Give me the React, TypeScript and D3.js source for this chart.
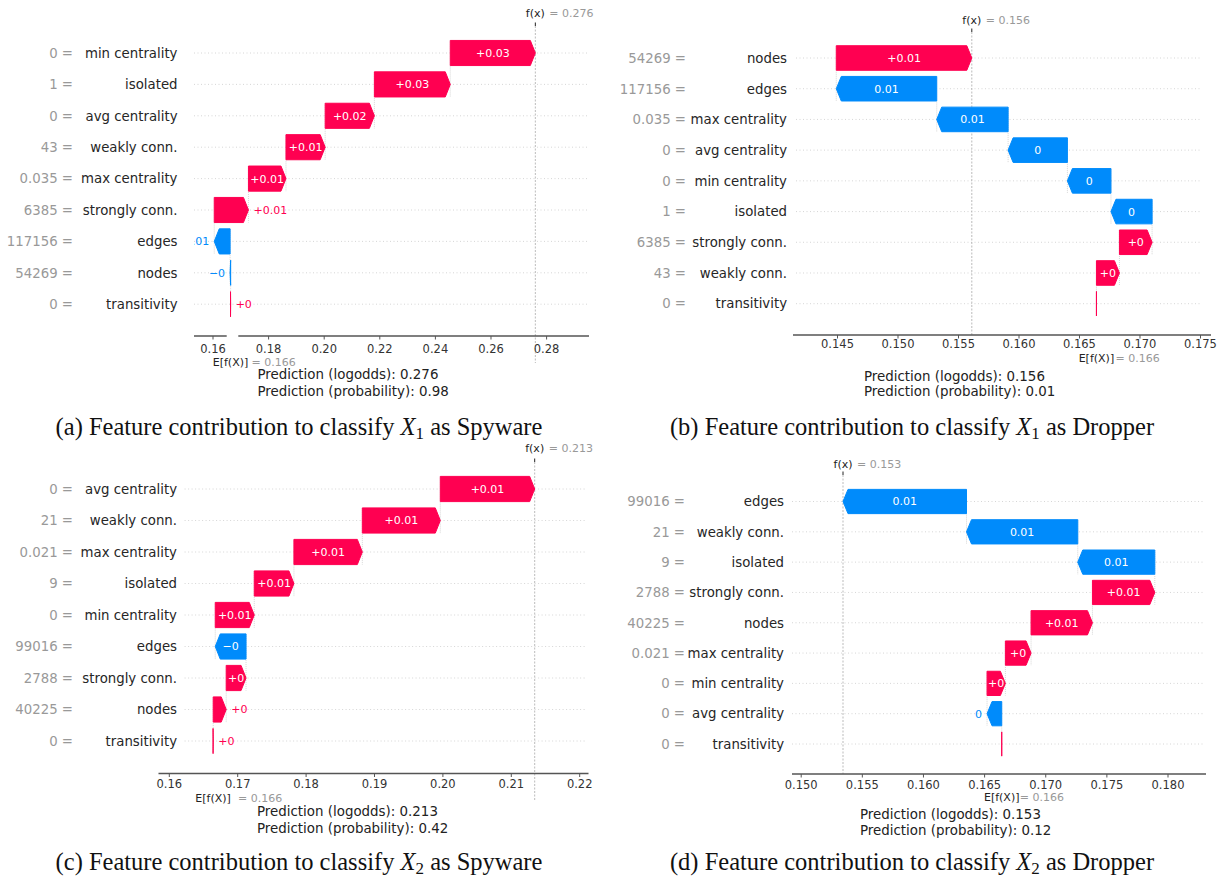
import React from "react";
import * as d3 from "d3";

const POS_COLOR = "#ff0051";
const NEG_COLOR = "#008bfb";
const SANS = "'DejaVu Sans', Verdana, sans-serif";
const SERIF = "'Liberation Serif', 'Times New Roman', serif";

// (a) sample X1 explained for class Spyware
const featuresA = ["min centrality", "isolated", "avg centrality", "weakly conn.", "max centrality", "strongly conn.", "edges", "nodes", "transitivity"];
const featureValuesA = ["0", "1", "0", "43", "0.035", "6385", "117156", "54269", "0"];
const shapA = [0.0306, 0.0273, 0.0177, 0.0141, 0.0135, 0.0123, -0.0057, -0.0002, 0.00005];
const baseA = 0.1663;
const probabilityA = 0.98;
const ticksA = [0.16, 0.18, 0.2, 0.22, 0.24, 0.26, 0.28];
const xLimA: [number, number] = [0.153165, 0.295252];

// (b) sample X1 explained for class Dropper
const featuresB = ["nodes", "edges", "max centrality", "avg centrality", "min centrality", "isolated", "strongly conn.", "weakly conn.", "transitivity"];
const featureValuesB = ["54269", "117156", "0.035", "0", "0", "1", "6385", "43", "0"];
const shapB = [0.0112, -0.0083, -0.0059, -0.0049, -0.0036, -0.0034, 0.0027, 0.0019, 0];
const baseB = 0.1664;
const probabilityB = 0.01;
const ticksB = [0.145, 0.15, 0.155, 0.16, 0.165, 0.17, 0.175];
const xLimB: [number, number] = [0.141322, 0.175868];

// (c) sample X2 explained for class Spyware
const featuresC = ["avg centrality", "weakly conn.", "max centrality", "isolated", "min centrality", "edges", "strongly conn.", "nodes", "transitivity"];
const featureValuesC = ["0", "21", "0.021", "9", "0", "99016", "2788", "40225", "0"];
const shapC = [0.0138, 0.0114, 0.01, 0.0058, 0.0057, -0.0045, 0.0029, 0.0019, 0.00002];
const baseC = 0.1664;
const probabilityC = 0.42;
const ticksC = [0.16, 0.17, 0.18, 0.19, 0.2, 0.21, 0.22];
const xLimC: [number, number] = [0.158421, 0.221287];

// (d) sample X2 explained for class Dropper
const featuresD = ["edges", "weakly conn.", "isolated", "strongly conn.", "nodes", "max centrality", "min centrality", "avg centrality", "transitivity"];
const featureValuesD = ["99016", "21", "9", "2788", "40225", "0.021", "0", "0", "0"];
const shapD = [-0.0101, -0.0091, -0.0063, 0.0051, 0.00502, 0.0021, 0.0015, -0.0012, 0];
const baseD = 0.1664;
const probabilityD = 0.12;
const ticksD = [0.15, 0.155, 0.16, 0.165, 0.17, 0.175, 0.18];
const xLimD: [number, number] = [0.149248, 0.183107];

// sub-figure captions
const captionLetters = ["a", "b", "c", "d"];
const captionSamples = ["1", "1", "2", "2"];
const captionClasses = ["Spyware", "Dropper", "Spyware", "Dropper"];

type Layout = {
  axisX0: number; axisX1: number; axisY: number; axisGap?: [number, number];
  rowY0: number; rowY1: number;
  topY: number; fxLabelY: number; fxLineBottom: number;
  tickLabelY: number; eLabelY: number; eOffset: number;
  predX: number; predY1: number; predY2: number;
  valueX: number; nameX: number; gridX0: number; gridX1: number;
  captionX: number; captionY: number;
};

const layoutA: Layout = {
  axisX0: 194, axisX1: 589, axisY: 336, axisGap: [226.7, 238.3],
  rowY0: 53, rowY1: 304.2,
  topY: 26, fxLabelY: 17, fxLineBottom: 363,
  tickLabelY: 353, eLabelY: 365.5, eOffset: 21,
  predX: 257.5, predY1: 379, predY2: 396,
  valueX: 73, nameX: 177.5, gridX0: 194, gridX1: 588.5,
  captionX: 299, captionY: 435,
};
const layoutB: Layout = {
  axisX0: 793, axisX1: 1211, axisY: 335,
  rowY0: 58, rowY1: 303.7,
  topY: 32, fxLabelY: 23.5, fxLineBottom: 335,
  tickLabelY: 348, eLabelY: 361.5, eOffset: 19,
  predX: 864, predY1: 380.5, predY2: 396,
  valueX: 686, nameX: 787, gridX0: 796, gridX1: 1202,
  captionX: 912, captionY: 435,
};
const layoutC: Layout = {
  axisX0: 158.5, axisX1: 588.5, axisY: 773.5,
  rowY0: 489, rowY1: 741,
  topY: 462, fxLabelY: 452, fxLineBottom: 800,
  tickLabelY: 788.3, eLabelY: 802, eOffset: 25,
  predX: 257, predY1: 816, predY2: 833,
  valueX: 73, nameX: 177, gridX0: 184.6, gridX1: 586.5,
  captionX: 299, captionY: 870,
};
const layoutD: Layout = {
  axisX0: 792, axisX1: 1206, axisY: 774,
  rowY0: 501.5, rowY1: 744,
  topY: 475, fxLabelY: 467.5, fxLineBottom: 774,
  tickLabelY: 789, eLabelY: 800.5, eOffset: 18,
  predX: 860, predY1: 818.5, predY2: 834.5,
  valueX: 685, nameX: 784, gridX0: 792, gridX1: 1204,
  captionX: 912, captionY: 870,
};

const HEAD_LENGTH = 5;
const BAR_LABEL_SIZE = 11;
const TICK_SIZE = 11.5;

let measureCtx: CanvasRenderingContext2D | null = null;
function textWidth(s: string, size: number): number {
  if (!measureCtx) measureCtx = document.createElement("canvas").getContext("2d");
  if (!measureCtx) return s.length * size * 0.6;
  measureCtx.font = `${size}px 'DejaVu Sans'`;
  return measureCtx.measureText(s).width;
}

// strip trailing zeros the way the waterfall formatter does ("0.00" -> "0")
function trimZeros(s: string): string {
  return s.replace(/\.?0+$/, "");
}

function arrowPoints(x0: number, x1: number, yc: number, h: number): string {
  const dir = x1 >= x0 ? 1 : -1;
  const hl = Math.min(Math.abs(x1 - x0), HEAD_LENGTH);
  const neck = x1 - dir * hl;
  return [
    [x0, yc - h / 2],
    [neck, yc - h / 2],
    [x1, yc],
    [neck, yc + h / 2],
    [x0, yc + h / 2],
  ].map((p) => p.join(",")).join(" ");
}

type WaterfallProps = {
  id: string;
  features: string[];
  featureValues: string[];
  shap: number[];
  base: number;
  probability: number;
  ticks: number[];
  tickDigits: number;
  xLim: [number, number];
  signedNegatives: boolean;
  L: Layout;
};

function Waterfall({ id, features, featureValues, shap, base, probability, ticks, tickDigits, xLim, signedNegatives, L }: WaterfallProps) {
  const x = d3.scaleLinear().domain(xLim).range([L.axisX0, L.axisX1]);
  const y = d3.scalePoint<string>().domain(features).range([L.rowY0, L.rowY1]);
  const barH = y.step() * 0.8;
  const fx = base + d3.sum(shap);
  const tickFmt = d3.format(`.${tickDigits}f`);

  // each bar runs from the running total below it to the running total after it
  const segs: { f: string; v: number; start: number; end: number }[] = [];
  let end = fx;
  shap.forEach((v, i) => {
    const start = end - v;
    segs.push({ f: features[i], v, start, end });
    end = start;
  });

  const clipId = `clip-${id}`;
  const axisSegments: [number, number][] = L.axisGap
    ? [[L.axisX0, L.axisGap[0]], [L.axisGap[1], L.axisX1]]
    : [[L.axisX0, L.axisX1]];

  return (
    <g>
      <defs>
        <clipPath id={clipId}>
          <rect x={L.axisX0} y={0} width={L.axisX1 - L.axisX0} height={881} />
        </clipPath>
      </defs>

      {/* horizontal row guides */}
      {features.map((f) => (
        <line key={`grid-${f}`} x1={L.gridX0} x2={L.gridX1} y1={y(f)} y2={y(f)}
          stroke="#cccccc" strokeWidth={0.8} strokeDasharray="1 2.5" />
      ))}

      {/* f(x) reference line */}
      <line x1={x(fx)} x2={x(fx)} y1={L.topY} y2={L.fxLineBottom}
        stroke="#aaaaaa" strokeWidth={0.8} strokeDasharray="2 1.5" />
      <line x1={x(fx)} x2={x(fx)} y1={L.topY - 3.5} y2={L.topY} stroke="#222" strokeWidth={1} />
      <text x={x(fx)} y={L.fxLabelY} textAnchor="middle" fontFamily={SANS} fontSize={11} fill="#222">f(x)</text>
      <text x={x(fx) + 14} y={L.fxLabelY} fontFamily={SANS} fontSize={11} fill="#999">= {fx.toFixed(3)}</text>

      {/* connectors between consecutive bars */}
      {segs.slice(0, -1).map((s, i) => (
        <line key={`conn-${s.f}`} x1={x(s.start)} x2={x(s.start)}
          y1={(y(s.f) as number) - barH / 2} y2={(y(segs[i + 1].f) as number) + barH / 2}
          stroke="#bbbbbb" strokeWidth={0.6} strokeDasharray="1 1" />
      ))}

      {/* arrows */}
      {segs.map((s) => {
        const color = s.v >= 0 ? POS_COLOR : NEG_COLOR;
        return (
          <polygon key={`bar-${s.f}`} points={arrowPoints(x(s.start), x(s.end), y(s.f) as number, barH)}
            fill={color} stroke={color} strokeWidth={1} strokeLinejoin="miter" />
        );
      })}

      {/* arrow labels */}
      <g clipPath={`url(#${clipId})`}>
        {segs.filter((s) => s.v !== 0).map((s) => {
          const mag = trimZeros(Math.abs(s.v).toFixed(2));
          const signed = (s.v > 0 ? "+" : "\u2212") + mag;
          const shown = s.v > 0 || signedNegatives ? signed : mag;
          const widthPx = Math.abs(x(s.end) - x(s.start));
          const inside = textWidth(signed, BAR_LABEL_SIZE) + 1 <= widthPx;
          const yc = y(s.f) as number;
          if (inside) {
            return (
              <text key={`lab-${s.f}`} x={x((s.start + s.end) / 2)} y={yc} dy="0.36em" textAnchor="middle"
                fontFamily={SANS} fontSize={BAR_LABEL_SIZE} fill="#fff">{shown}</text>
            );
          }
          const pos = s.v > 0;
          return (
            <text key={`lab-${s.f}`} x={x(s.end) + (pos ? 5 : -5)} y={yc} dy="0.36em" textAnchor={pos ? "start" : "end"}
              fontFamily={SANS} fontSize={BAR_LABEL_SIZE} fill={pos ? POS_COLOR : NEG_COLOR}>{shown}</text>
          );
        })}
      </g>

      {/* row labels: feature value in grey, feature name in dark */}
      {features.map((f, i) => (
        <g key={`rl-${f}`}>
          <text x={L.valueX} y={y(f)} dy="0.36em" textAnchor="end" fontFamily={SANS} fontSize={13.3} fill="#999">
            {featureValues[i]} =
          </text>
          <text x={L.nameX} y={y(f)} dy="0.36em" textAnchor="end" fontFamily={SANS} fontSize={13.3} fill="#262626">
            {f}
          </text>
        </g>
      ))}

      {/* bottom axis */}
      {axisSegments.map(([a, b], i) => (
        <line key={`ax-${i}`} x1={a} x2={b} y1={L.axisY} y2={L.axisY} stroke="#555" strokeWidth={1.4} />
      ))}
      {ticks.map((t) => (
        <g key={`tk-${t}`}>
          <line x1={x(t)} x2={x(t)} y1={L.axisY} y2={L.axisY + 3.5} stroke="#555" strokeWidth={1} />
          <text x={x(t)} y={L.tickLabelY} textAnchor="middle" fontFamily={SANS} fontSize={TICK_SIZE} fill="#333">
            {tickFmt(t)}
          </text>
        </g>
      ))}

      {/* expected value marker */}
      <text x={x(base)} y={L.eLabelY} textAnchor="middle" fontFamily={SANS} fontSize={11} fill="#222">E[f(X)]</text>
      <text x={x(base) + L.eOffset} y={L.eLabelY} fontFamily={SANS} fontSize={11} fill="#999">= {base.toFixed(3)}</text>

      {/* prediction summary */}
      <text x={L.predX} y={L.predY1} fontFamily={SANS} fontSize={13.4} fill="#222">
        Prediction (logodds): {fx.toFixed(3)}
      </text>
      <text x={L.predX} y={L.predY2} fontFamily={SANS} fontSize={13.4} fill="#222">
        Prediction (probability): {probability.toFixed(2)}
      </text>
    </g>
  );
}

function Caption({ i, L }: { i: number; L: Layout }) {
  return (
    <text x={L.captionX} y={L.captionY} textAnchor="middle" fontFamily={SERIF} fontSize={24.5} fill="#111">
      {`(${captionLetters[i]}) Feature contribution to classify `}
      <tspan fontStyle="italic">X</tspan>
      <tspan fontSize={17} dy={4}>{captionSamples[i]}</tspan>
      <tspan dy={-4}>{` as ${captionClasses[i]}`}</tspan>
    </text>
  );
}

export default function App() {
  const layouts = [layoutA, layoutB, layoutC, layoutD];
  return (
    <svg width={1223} height={881} viewBox="0 0 1223 881"
      style={{ position: "absolute", left: 0, top: 0, background: "#fff" }}>
      <rect x={0} y={0} width={1223} height={881} fill="#fff" />
      <Waterfall id="a" features={featuresA} featureValues={featureValuesA} shap={shapA} base={baseA}
        probability={probabilityA} ticks={ticksA} tickDigits={2} xLim={xLimA} signedNegatives={true} L={layoutA} />
      <Waterfall id="b" features={featuresB} featureValues={featureValuesB} shap={shapB} base={baseB}
        probability={probabilityB} ticks={ticksB} tickDigits={3} xLim={xLimB} signedNegatives={false} L={layoutB} />
      <Waterfall id="c" features={featuresC} featureValues={featureValuesC} shap={shapC} base={baseC}
        probability={probabilityC} ticks={ticksC} tickDigits={2} xLim={xLimC} signedNegatives={true} L={layoutC} />
      <Waterfall id="d" features={featuresD} featureValues={featureValuesD} shap={shapD} base={baseD}
        probability={probabilityD} ticks={ticksD} tickDigits={3} xLim={xLimD} signedNegatives={false} L={layoutD} />
      {layouts.map((L, i) => <Caption key={i} i={i} L={L} />)}
    </svg>
  );
}
